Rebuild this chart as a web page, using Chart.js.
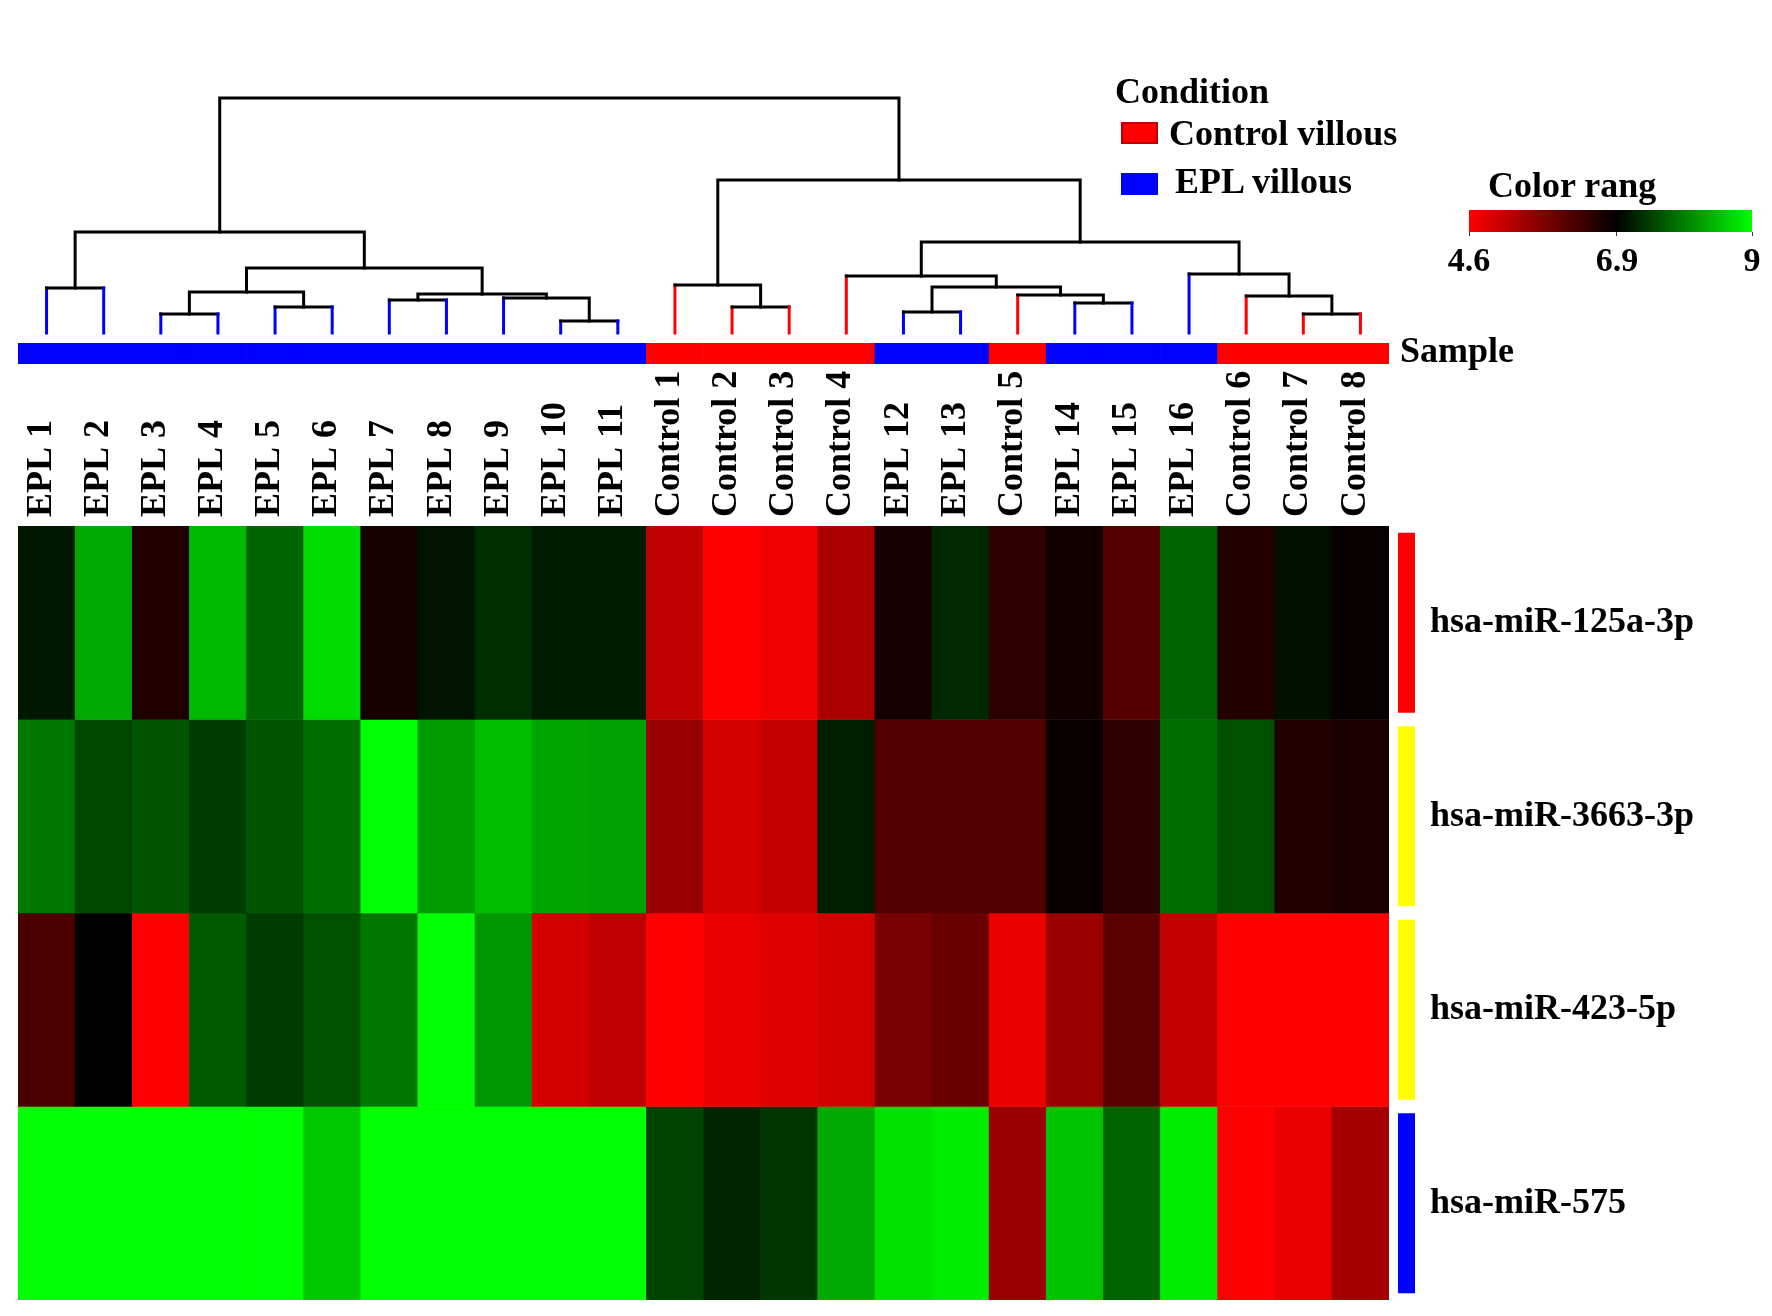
<!DOCTYPE html>
<html>
<head>
<meta charset="utf-8">
<script src="https://cdn.jsdelivr.net/npm/chart.js@4.4.1/dist/chart.umd.min.js"></script>
<style>
  html, body { margin: 0; padding: 0; background: #fff; }
  #wrap { position: relative; width: 1772px; height: 1316px; background: #fff; overflow: hidden; }
  #wrap canvas { position: absolute; }
  .txt { position: absolute; font-family: 'Liberation Serif', 'Times New Roman', serif; font-weight: bold;
         font-size: 36px; line-height: 36px; color: #000; white-space: nowrap; }
  .sw { position: absolute; width: 37px; height: 22px; }
</style>
</head>
<body>
<div id="wrap">
  <canvas id="dendro" width="1772" height="340" style="left:0;top:0;width:1772px;height:340px"></canvas>
  <canvas id="sample" width="1772" height="21" style="left:0;top:343px;width:1772px;height:21px"></canvas>
  <canvas id="heat" width="1772" height="956" style="left:0;top:360px;width:1772px;height:956px"></canvas>
  <canvas id="anno" width="17" height="774" style="left:1398px;top:526px;width:17px;height:774px"></canvas>
  <canvas id="range" width="352" height="80" style="left:1420px;top:200px;width:352px;height:80px"></canvas>

  <div class="txt" style="left:1115px;top:73px">Condition</div>
  <div class="sw" style="left:1121px;top:122px;background:#ff0000;box-shadow:inset 0 0 0 2px #c00000"></div>
  <div class="txt" style="left:1169px;top:115px">Control villous</div>
  <div class="sw" style="left:1121px;top:173px;background:#0000ff"></div>
  <div class="txt" style="left:1175px;top:163px">EPL villous</div>
  <div class="txt" style="left:1488px;top:167px">Color rang</div>
  <div class="txt" style="left:1400px;top:332px">Sample</div>
</div>
<script>
// samples in dendrogram order
const sampleNames = ['EPL 1','EPL 2','EPL 3','EPL 4','EPL 5','EPL 6','EPL 7','EPL 8','EPL 9','EPL 10','EPL 11',
  'Control 1','Control 2','Control 3','Control 4','EPL 12','EPL 13','Control 5','EPL 14','EPL 15','EPL 16',
  'Control 6','Control 7','Control 8'];
const sampleGroup = ['EPL','EPL','EPL','EPL','EPL','EPL','EPL','EPL','EPL','EPL','EPL',
  'Control','Control','Control','Control','EPL','EPL','Control','EPL','EPL','EPL',
  'Control','Control','Control'];

const rowNames = ['hsa-miR-125a-3p','hsa-miR-3663-3p','hsa-miR-423-5p','hsa-miR-575'];
const rowClusterColors = ['#ff0000','#ffff00','#ffff00','#0000ff'];

// expression values (log2)
const mir125a = [7.10,8.30,6.63,8.42,7.72,8.71,6.70,7.05,7.27,7.13,7.13,5.19,4.60,4.73,5.37,6.72,7.23,6.49,6.74,6.13,7.72,6.58,7.02,6.83];
const mir3663 = [7.89,7.48,7.60,7.39,7.60,7.81,9.00,8.18,8.46,8.26,8.22,5.55,5.00,5.14,7.15,6.18,6.18,6.18,6.83,6.49,7.81,7.56,6.58,6.67];
const mir423  = [6.22,6.90,4.60,7.64,7.39,7.56,7.89,9.00,8.14,5.00,5.19,4.60,4.78,4.87,5.00,5.82,5.95,4.78,5.50,6.09,5.14,4.60,4.60,4.60];
const mir575  = [9.00,9.00,9.00,9.00,9.00,8.55,9.00,9.00,9.00,9.00,9.00,7.44,7.19,7.35,8.30,8.75,8.84,5.50,8.51,7.72,8.84,4.60,4.78,5.41];

// colour range ticks: low, mid, high
const colorTicks = [4.6, 6.9, 9];

// column linkage: [left, right, height]; ids >= 24 are earlier merges
const merges = [
  [0, 1, 45],   [2, 3, 19],   [4, 5, 26],   [25, 26, 41],
  [6, 7, 33],   [9, 10, 12],  [8, 29, 35],  [28, 30, 39],
  [27, 31, 65], [24, 32, 101],
  [12, 13, 26], [11, 34, 48],
  [15, 16, 21], [18, 19, 30], [17, 37, 38], [36, 38, 46], [14, 39, 57],
  [22, 23, 19], [21, 41, 37], [20, 42, 59],
  [40, 43, 91], [35, 44, 153], [33, 45, 235]
];

const groupColor = { EPL: '#0000ff', Control: '#ff0000' };
Chart.defaults.font.family = "'Liberation Serif', 'Times New Roman', serif";
Chart.defaults.font.weight = 'bold';
Chart.defaults.color = '#000';
Chart.defaults.animation = false;
Chart.defaults.plugins.legend.display = false;
Chart.defaults.plugins.tooltip.enabled = false;

function cellColor(v) {
  const lo = colorTicks[0], mid = colorTicks[1], hi = colorTicks[2];
  if (v <= mid) {
    const t = Math.min(1, (mid - v) / (mid - lo));
    return 'rgb(' + Math.round(255 * t) + ',0,0)';
  }
  const t = Math.min(1, (v - mid) / (hi - mid));
  return 'rgb(0,' + Math.round(255 * t) + ',0)';
}

// ---- dendrogram ----
const n = sampleNames.length;
const nodeX = [], nodeH = [];
for (let i = 0; i < n; i++) { nodeX.push(i + 0.5); nodeH.push(0); }
const dendroSets = [];
merges.forEach(m => {
  const a = m[0], b = m[1], h = m[2];
  const ca = a < n ? groupColor[sampleGroup[a]] : '#000';
  const cb = b < n ? groupColor[sampleGroup[b]] : '#000';
  dendroSets.push({
    data: [{x: nodeX[a], y: nodeH[a]}, {x: nodeX[a], y: h}, {x: nodeX[b], y: h}, {x: nodeX[b], y: nodeH[b]}],
    showLine: true, pointRadius: 0, borderWidth: 3, borderColor: '#000', tension: 0, clip: false,
    borderCapStyle: 'square',
    segment: { borderColor: c => c.p0DataIndex === 0 ? ca : (c.p0DataIndex === 2 ? cb : '#000') }
  });
  nodeX.push((nodeX[a] + nodeX[b]) / 2);
  nodeH.push(h);
});

new Chart(document.getElementById('dendro'), {
  type: 'scatter',
  data: { datasets: dendroSets },
  options: {
    responsive: false,
    layout: { padding: { left: 18, right: 383, top: 98, bottom: 7 } },
    scales: {
      x: { type: 'linear', min: 0, max: n, display: false },
      y: { type: 'linear', min: 0, max: 235, display: false }
    }
  }
});

// ---- sample bar ----
new Chart(document.getElementById('sample'), {
  type: 'bar',
  data: {
    labels: sampleNames,
    datasets: [{
      data: sampleNames.map(() => 1),
      backgroundColor: sampleGroup.map(g => groupColor[g]),
      borderWidth: 0, barPercentage: 1, categoryPercentage: 1
    }]
  },
  options: {
    responsive: false,
    layout: { padding: { left: 18, right: 383, top: 0, bottom: 0 } },
    scales: { x: { display: false }, y: { display: false, min: 0, max: 1 } }
  }
});

// ---- heatmap ----
const rows = [mir125a, mir3663, mir423, mir575];
new Chart(document.getElementById('heat'), {
  type: 'bar',
  data: {
    labels: sampleNames,
    datasets: rows.map((vals, i) => ({
      label: rowNames[i],
      data: vals.map(() => 1),
      backgroundColor: vals.map(cellColor),
      borderWidth: 0, barPercentage: 1, categoryPercentage: 1,
      yAxisID: 'y'
    }))
  },
  options: {
    responsive: false,
    layout: { padding: { left: 18, right: 0, top: 0, bottom: 16 } },
    scales: {
      x: {
        position: 'top', stacked: true,
        grid: { display: false, drawTicks: false }, border: { display: false },
        ticks: { autoSkip: false, minRotation: 90, maxRotation: 90, padding: 9, labelOffset: 38, font: { size: 36 } },
        afterFit: s => { s.height = 166; s.paddingLeft = 0; s.paddingRight = 0; }
      },
      y: { stacked: true, min: 0, max: 4, reverse: true, display: false },
      rowLabels: {
        type: 'category', labels: rowNames, position: 'right', offset: true,
        grid: { display: false, drawTicks: false }, border: { display: false },
        ticks: { padding: 41, font: { size: 36 } },
        afterFit: s => { s.width = 383; s.paddingTop = 0; s.paddingBottom = 0; }
      }
    }
  }
});

// ---- row cluster bars ----
new Chart(document.getElementById('anno'), {
  type: 'bar',
  data: {
    labels: rowNames,
    datasets: [{ data: rowNames.map(() => 1), backgroundColor: rowClusterColors, borderWidth: 0,
                 barPercentage: 0.93, categoryPercentage: 1 }]
  },
  options: {
    indexAxis: 'y', responsive: false,
    layout: { padding: 0 },
    scales: { x: { display: false, min: 0, max: 1 }, y: { display: false } }
  }
});

// ---- colour range bar ----
new Chart(document.getElementById('range'), {
  type: 'bar',
  data: {
    labels: ['Color rang'],
    datasets: [{
      data: [[colorTicks[0], colorTicks[2]]],
      borderWidth: 0, barPercentage: 1, categoryPercentage: 1,
      backgroundColor: c => {
        const area = c.chart.chartArea;
        if (!area) return '#000';
        const g = c.chart.ctx.createLinearGradient(area.left, 0, area.right, 0);
        const span = colorTicks[2] - colorTicks[0];
        g.addColorStop(0, cellColor(colorTicks[0]));
        g.addColorStop((colorTicks[1] - colorTicks[0]) / span, cellColor(colorTicks[1]));
        g.addColorStop(1, cellColor(colorTicks[2]));
        return g;
      }
    }]
  },
  options: {
    indexAxis: 'y', responsive: false,
    layout: { padding: { left: 49, right: 20, top: 10, bottom: 0 } },
    scales: {
      x: {
        type: 'linear', min: colorTicks[0], max: colorTicks[2],
        afterBuildTicks: s => { s.ticks = colorTicks.map(v => ({ value: v })); },
        grid: { display: true, drawOnChartArea: false, drawTicks: true, tickLength: 4, color: '#333', lineWidth: 1 },
        border: { display: false },
        ticks: { padding: 6, font: { size: 34 } },
        afterFit: s => { s.height = 48; s.paddingLeft = 0; s.paddingRight = 0; }
      },
      y: { display: false }
    }
  }
});
</script>
</body>
</html>
